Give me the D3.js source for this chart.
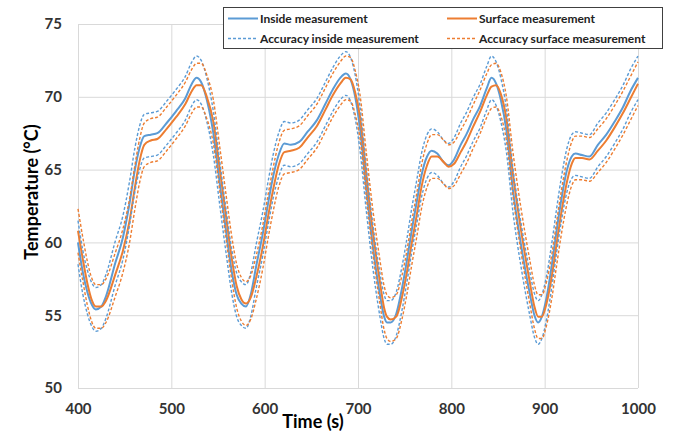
<!doctype html>
<html>
  <head>
    <script src="https://cdnjs.cloudflare.com/ajax/libs/d3/7.8.5/d3.min.js"></script>
    <style>
      body { margin: 0; background: #fff; }
      text { font-family: Lato, "Open Sans", sans-serif; font-weight: bold; }
      line.grid { stroke: #d9d9d9; stroke-width: 1; }
      path.inside { fill: none; stroke: #5B9BD5; stroke-width: 2; }
      path.surface { fill: none; stroke: #ED7D31; stroke-width: 2; }
      path.acc-inside { fill: none; stroke: #5B9BD5; stroke-width: 1.4; stroke-dasharray: 3 2; }
      path.acc-surface { fill: none; stroke: #ED7D31; stroke-width: 1.4; stroke-dasharray: 3 2; }
      .tick text { font-size: 15px; fill: #333; }
    </style>
  </head>
  <body>
    <svg width="673" height="431"></svg>
    <script>
      var time = [400, 405, 410, 415, 419, 425, 430, 440, 448, 455, 461, 466, 471, 478, 485, 495, 505, 515, 522, 527,
        532, 538, 545, 552, 559, 565, 570, 575, 580, 585, 591, 598, 604, 609, 615, 621, 628, 637, 646, 656,
        665, 673, 681, 687, 692, 697, 702, 709, 716, 723, 728, 731, 735, 741, 747, 752, 758, 763, 768, 774,
        779, 785, 792, 797, 803, 810, 816, 823, 831, 838, 843, 848, 853, 859, 866, 875, 884, 889, 893, 897,
        902, 908, 913, 918, 924, 929, 933, 940, 948, 957, 966, 975, 984, 992, 1000];

      var inside = [60.0, 58.0, 56.6, 55.7, 55.4, 55.6, 56.3, 58.6, 60.3, 62.6, 65.0, 66.5, 67.3, 67.4, 67.5, 68.2, 69.0, 69.9, 70.9, 71.3,
        71.0, 69.8, 67.5, 64.0, 60.6, 57.9, 56.4, 55.8, 55.6, 56.4, 58.4, 60.6, 62.8, 64.5, 66.0, 66.8, 66.7, 66.9, 67.6, 68.4,
        69.5, 70.5, 71.3, 71.6, 71.2, 70.0, 67.9, 63.6, 59.7, 56.6, 54.9, 54.5, 54.5, 55.1, 56.8, 58.6, 61.0, 62.8, 64.6, 65.9,
        66.3, 66.1, 65.5, 65.3, 65.7, 66.7, 67.4, 68.4, 69.4, 70.6, 71.3, 70.9, 69.8, 67.7, 63.6, 59.7, 56.5, 55.0, 54.5, 54.9,
        56.2, 58.6, 60.9, 63.0, 65.0, 65.9, 66.1, 66.0, 65.9, 66.7, 67.4, 68.3, 69.3, 70.4, 71.3];

      var surface = [60.8, 58.9, 57.2, 56.0, 55.6, 55.6, 56.0, 57.8, 59.4, 61.4, 63.8, 65.6, 66.7, 67.0, 67.1, 67.8, 68.6, 69.5, 70.4, 70.8,
        70.8, 70.0, 68.3, 65.0, 61.6, 58.8, 57.0, 56.1, 55.8, 56.2, 57.6, 59.7, 61.9, 63.6, 65.3, 66.2, 66.3, 66.5, 67.2, 68.0,
        69.1, 70.1, 70.9, 71.3, 71.2, 70.3, 68.7, 64.6, 60.7, 57.5, 55.5, 54.9, 54.7, 54.9, 56.2, 57.8, 60.1, 61.9, 63.8, 65.3,
        65.9, 65.9, 65.5, 65.2, 65.4, 66.2, 66.9, 67.9, 69.0, 70.1, 70.7, 70.8, 70.2, 68.5, 64.7, 60.7, 57.3, 55.6, 54.9, 54.9,
        55.8, 57.8, 60.0, 62.1, 64.2, 65.4, 65.8, 65.8, 65.7, 66.3, 67.0, 67.9, 68.9, 69.9, 70.9];

      // sensor accuracy (± °C)
      var accuracy = 1.5;

      var xTicks = [400, 500, 600, 700, 800, 900, 1000];
      var yTicks = [50, 55, 60, 65, 70, 75];

      var legendItems = [
        { label: "Inside measurement", cls: "inside" },
        { label: "Surface measurement", cls: "surface" },
        { label: "Accuracy inside measurement", cls: "acc-inside" },
        { label: "Accuracy surface measurement", cls: "acc-surface" }
      ];

      var svg = d3.select("svg");
      var plotL = 78, plotR = 638, plotT = 24, plotB = 388;

      var x = d3.scaleLinear().domain([400, 1000]).range([plotL, plotR]);
      var y = d3.scaleLinear().domain([50, 75]).range([plotB, plotT]);

      // grid
      svg.selectAll("line.hgrid").data(yTicks).enter().append("line")
        .attr("class", "grid")
        .attr("x1", plotL).attr("x2", plotR)
        .attr("y1", d => y(d) + 0.5).attr("y2", d => y(d) + 0.5);
      svg.selectAll("line.vgrid").data(xTicks).enter().append("line")
        .attr("class", "grid")
        .attr("y1", plotT).attr("y2", plotB)
        .attr("x1", d => x(d) + 0.5).attr("x2", d => x(d) + 0.5);

      // axes (labels only)
      var xAxis = svg.append("g").attr("transform", "translate(0," + plotB + ")")
        .call(d3.axisBottom(x).tickValues(xTicks).tickSize(0).tickPadding(15).tickFormat(d3.format("d")));
      var yAxis = svg.append("g").attr("transform", "translate(" + plotL + ",0)")
        .call(d3.axisLeft(y).tickValues(yTicks).tickSize(0).tickPadding(16).tickFormat(d3.format("d")));
      xAxis.select(".domain").remove();
      yAxis.select(".domain").remove();

      // series
      var line = (vals, off) => d3.line()
        .x((d, i) => x(time[i]))
        .y(d => y(d + off))
        .curve(d3.curveMonotoneX)(vals);

      svg.append("path").attr("class", "inside").attr("d", line(inside, 0));
      svg.append("path").attr("class", "surface").attr("d", line(surface, 0));
      svg.append("path").attr("class", "acc-inside").attr("d", line(inside, accuracy));
      svg.append("path").attr("class", "acc-inside").attr("d", line(inside, -accuracy));
      svg.append("path").attr("class", "acc-surface").attr("d", line(surface, accuracy));
      svg.append("path").attr("class", "acc-surface").attr("d", line(surface, -accuracy));

      // axis titles
      svg.append("text")
        .attr("transform", "translate(38,192) rotate(-90)")
        .attr("text-anchor", "middle")
        .style("font-size", "18px")
        .text("Temperature (°C)");
      svg.append("text")
        .attr("x", 313).attr("y", 428)
        .attr("text-anchor", "middle")
        .style("font-size", "18px")
        .text("Time (s)");

      // legend
      var lg = svg.append("g");
      lg.append("rect")
        .attr("x", 223.5).attr("y", 7.5).attr("width", 439).attr("height", 41)
        .attr("fill", "#fff").attr("stroke", "#404040").attr("stroke-width", 1);
      var cols = [228, 447], rows = [18.5, 38.5];
      legendItems.forEach(function (it, i) {
        var cx = cols[i % 2], cy = rows[Math.floor(i / 2)];
        lg.append("path").attr("class", it.cls)
          .attr("d", "M" + cx + "," + cy + "H" + (cx + 30));
        lg.append("text")
          .attr("x", cx + 32).attr("y", cy + 4)
          .style("font-size", "12px")
          .attr("fill", "#222")
          .text(it.label);
      });
    </script>
  </body>
</html>
